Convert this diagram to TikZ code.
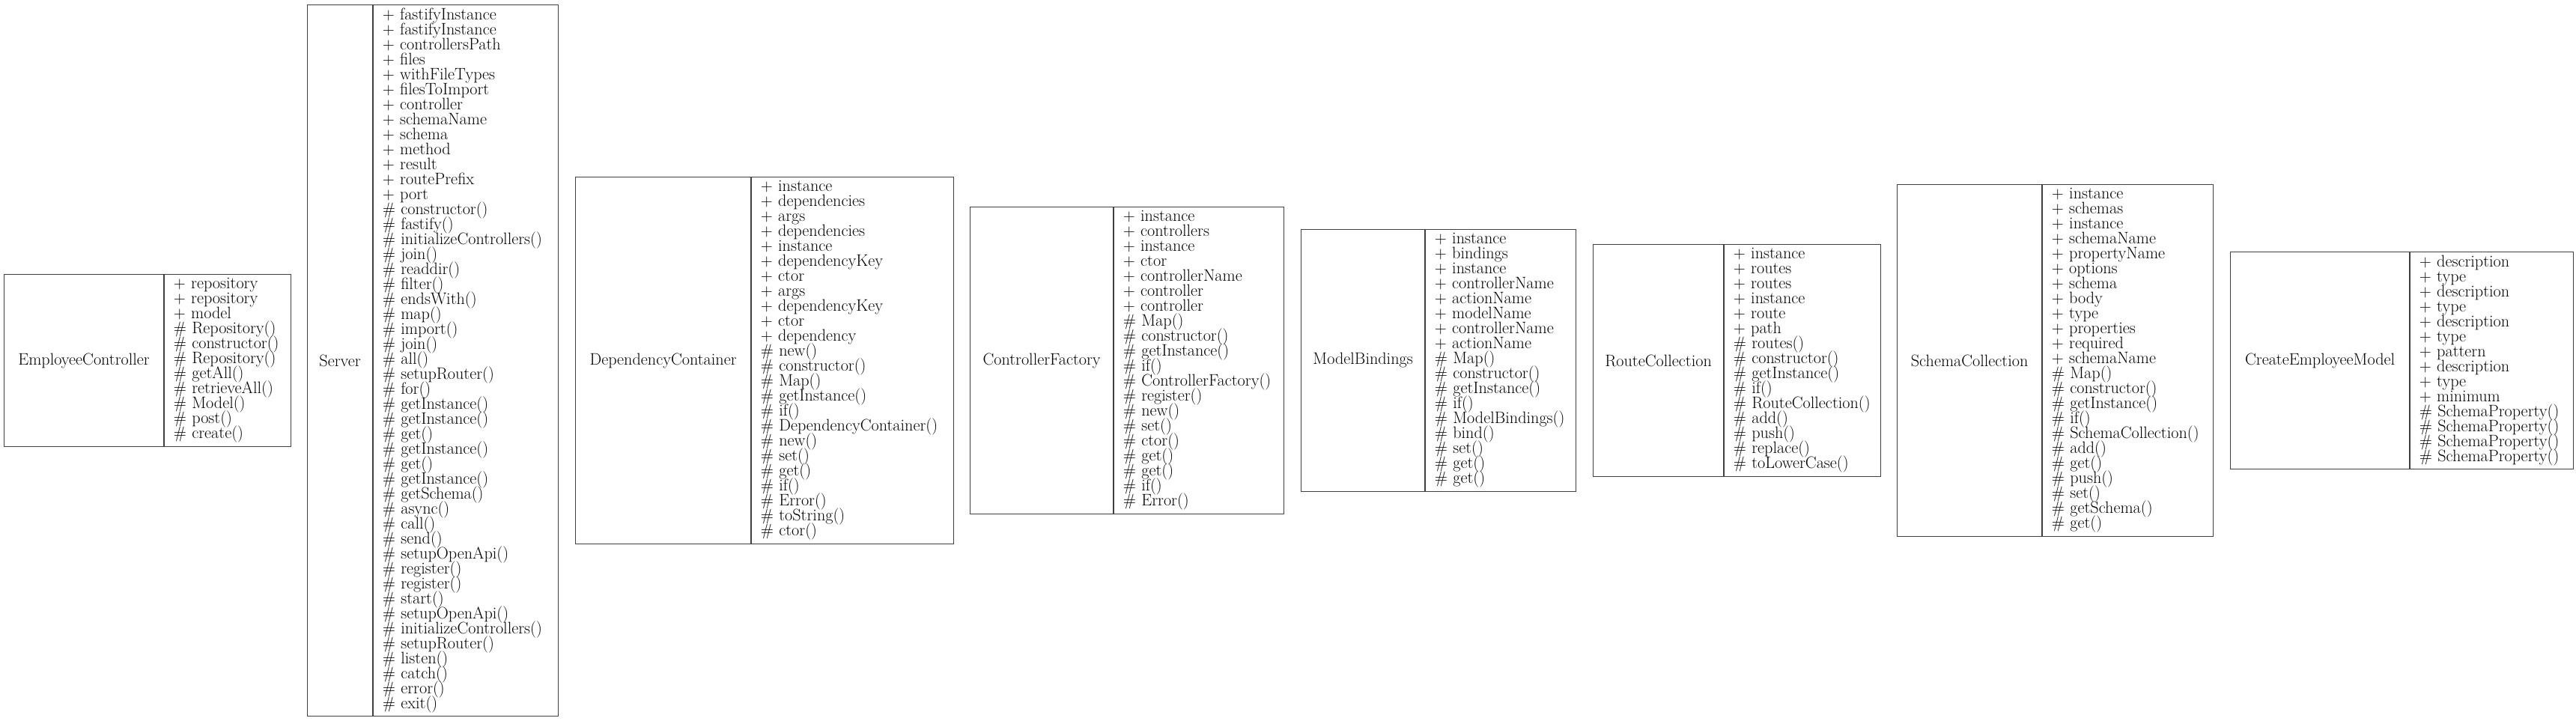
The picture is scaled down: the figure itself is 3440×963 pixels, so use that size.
\documentclass[tikz,border=0pt]{standalone}
\usepackage{fontspec}
\usepackage{tikz}
\usetikzlibrary{positioning}
\newcommand{\boxline}{1.2pt}
\newcommand{\midrow}{481.5}
\newcommand{\cellfont}{\fontsize{22.2}{20}\selectfont\lineskiplimit=-20pt\hyphenpenalty=10000\exhyphenpenalty=10000}

\tikzset{
  cell/.style={draw=black!75, line width=\boxline, rectangle, font=\cellfont},
  namecell/.style 2 args={cell, inner sep=0pt, anchor=west, minimum width=#1, minimum height=#2},
  listcell/.style 2 args={cell, inner xsep=12pt, inner ysep=0pt, align=left, text width=#1, minimum height=#2}
}

\begin{document}
\begin{tikzpicture}[x=1pt, y=-1pt]
\useasboundingbox (0,0) rectangle (3440,963);
%EmployeeController
\node[namecell={213pt}{230pt}] (n1) at (5,\midrow) {EmployeeController};
\node[listcell={145pt}{230pt}, right=0pt of n1] (m1) {+ repository\\+ repository\\+ model\\\#~Repository()\\\#~constructor()\\\#~Repository()\\\#~getAll()\\\#~retrieveAll()\\\#~Model()\\\#~post()\\\#~create()};
%Server
\node[namecell={87pt}{950pt}] (n2) at (410,\midrow) {Server};
\node[listcell={223pt}{950pt}, right=0pt of n2] (m2) {+ fastifyInstance\\+ fastifyInstance\\+ controllersPath\\+ files\\+ withFileTypes\\+ filesToImport\\+ controller\\+ schemaName\\+ schema\\+ method\\+ result\\+ routePrefix\\+ port\\\#~constructor()\\\#~fastify()\\\#~initializeControllers()\\\#~join()\\\#~readdir()\\\#~filter()\\\#~endsWith()\\\#~map()\\\#~import()\\\#~join()\\\#~all()\\\#~setupRouter()\\\#~for()\\\#~getInstance()\\\#~getInstance()\\\#~get()\\\#~getInstance()\\\#~get()\\\#~getInstance()\\\#~getSchema()\\\#~async()\\\#~call()\\\#~send()\\\#~setupOpenApi()\\\#~register()\\\#~register()\\\#~start()\\\#~setupOpenApi()\\\#~initializeControllers()\\\#~setupRouter()\\\#~listen()\\\#~catch()\\\#~error()\\\#~exit()};
%DependencyContainer
\node[namecell={234pt}{490pt}] (n3) at (768,\midrow) {DependencyContainer};
\node[listcell={246pt}{490pt}, right=0pt of n3] (m3) {+ instance\\+ dependencies\\+ args\\+ dependencies\\+ instance\\+ dependencyKey\\+ ctor\\+ args\\+ dependencyKey\\+ ctor\\+ dependency\\\#~new()\\\#~constructor()\\\#~Map()\\\#~getInstance()\\\#~if()\\\#~DependencyContainer()\\\#~new()\\\#~set()\\\#~get()\\\#~if()\\\#~Error()\\\#~toString()\\\#~ctor()};
%ControllerFactory
\node[namecell={191pt}{410pt}] (n4) at (1295,\midrow) {ControllerFactory};
\node[listcell={203pt}{410pt}, right=0pt of n4] (m4) {+ instance\\+ controllers\\+ instance\\+ ctor\\+ controllerName\\+ controller\\+ controller\\\#~Map()\\\#~constructor()\\\#~getInstance()\\\#~if()\\\#~ControllerFactory()\\\#~register()\\\#~new()\\\#~set()\\\#~ctor()\\\#~get()\\\#~get()\\\#~if()\\\#~Error()};
%ModelBindings
\node[namecell={165pt}{350pt}] (n5) at (1737,\midrow) {ModelBindings};
\node[listcell={177pt}{350pt}, right=0pt of n5] (m5) {+ instance\\+ bindings\\+ instance\\+ controllerName\\+ actionName\\+ modelName\\+ controllerName\\+ actionName\\\#~Map()\\\#~constructor()\\\#~getInstance()\\\#~if()\\\#~ModelBindings()\\\#~bind()\\\#~set()\\\#~get()\\\#~get()};
%RouteCollection
\node[namecell={174pt}{310pt}] (n6) at (2127,\midrow) {RouteCollection};
\node[listcell={185pt}{310pt}, right=0pt of n6] (m6) {+ instance\\+ routes\\+ routes\\+ instance\\+ route\\+ path\\\#~routes()\\\#~constructor()\\\#~getInstance()\\\#~if()\\\#~RouteCollection()\\\#~add()\\\#~push()\\\#~replace()\\\#~toLowerCase()};
%SchemaCollection
\node[namecell={193pt}{470pt}] (n7) at (2533,\midrow) {SchemaCollection};
\node[listcell={204pt}{470pt}, right=0pt of n7] (m7) {+ instance\\+ schemas\\+ instance\\+ schemaName\\+ propertyName\\+ options\\+ schema\\+ body\\+ type\\+ properties\\+ required\\+ schemaName\\\#~Map()\\\#~constructor()\\\#~getInstance()\\\#~if()\\\#~SchemaCollection()\\\#~add()\\\#~get()\\\#~push()\\\#~set()\\\#~getSchema()\\\#~get()};
%CreateEmployeeModel
\node[namecell={239pt}{290pt}] (n8) at (2978,\midrow) {CreateEmployeeModel};
\node[listcell={194pt}{290pt}, right=0pt of n8] (m8) {+ description\\+ type\\+ description\\+ type\\+ description\\+ type\\+ pattern\\+ description\\+ type\\+ minimum\\\#~SchemaProperty()\\\#~SchemaProperty()\\\#~SchemaProperty()\\\#~SchemaProperty()};
\end{tikzpicture}
\end{document}
